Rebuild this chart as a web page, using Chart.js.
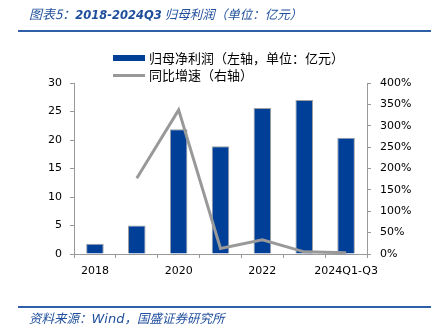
<!DOCTYPE html>
<html><head><meta charset="utf-8">
<script src="https://cdn.jsdelivr.net/npm/chart.js@4/dist/chart.umd.min.js"></script>
<style>
html,body{margin:0;padding:0;background:#fff;width:431px;height:330px;overflow:hidden;position:relative;font-family:"DejaVu Sans",sans-serif;}
#wrap{position:absolute;left:0;top:0;width:431px;height:330px;}
.title{position:absolute;left:29px;top:4px;font-size:13px;color:#1f4e9c;font-style:italic;white-space:nowrap;font-family:"Noto Sans CJK SC",sans-serif;}
.title b{font-family:"DejaVu Sans",sans-serif;font-weight:bold;font-size:11.5px;}
.title span.s{font-size:12.5px;}
.hr1{position:absolute;left:18px;right:0;top:30px;height:2px;background:#2e5fa8;}
.hr2{position:absolute;left:18px;right:0;top:306px;height:2px;background:#2e5fa8;}
.foot{position:absolute;left:29px;top:308px;font-size:12.5px;color:#1f4e9c;font-style:italic;white-space:nowrap;font-family:"Noto Sans CJK SC",sans-serif;}
.foot i{font-family:"DejaVu Sans",sans-serif;font-size:13px;}
.leg{position:absolute;left:113px;font-size:13px;color:#000;white-space:nowrap;font-family:"Noto Sans CJK SC",sans-serif;line-height:16px;}
.sw1{display:inline-block;width:32px;height:6px;background:#003f98;border:0;vertical-align:middle;margin-right:4px;position:relative;top:-1px;}
.sw2{display:inline-block;width:32px;height:3px;background:#999;vertical-align:middle;margin-right:4px;position:relative;top:-1px;}
</style></head>
<body>
<div id="wrap"><canvas id="c" width="431" height="330"></canvas></div>
<div class="title">图表5：<b>2018-2024Q3</b> <span class="s">归母利润（单位：亿元）</span></div>
<div class="hr1"></div>
<div class="leg" style="top:50px"><span class="sw1"></span>归母净利润（左轴，单位：亿元）</div>
<div class="leg" style="top:67px"><span class="sw2"></span>同比增速（右轴）</div>
<div class="hr2"></div>
<div class="foot">资料来源：<i>Wind</i>，国盛证券研究所</div>
<script>
const categories = ["2018","2019","2020","2021","2022","2023","2024Q1-Q3"];
const profit = [1.8, 5.0, 21.9, 18.9, 25.6, 27.0, 20.4];
const growth = [null, 177, 337, 13, 33, 5, 3];
const leftTicks = [0,5,10,15,20,25,30];
const rightTicks = [0,50,100,150,200,250,300,350,400];

const tickFont = {family:"DejaVu Sans", size:11};
new Chart(document.getElementById('c'), {
  data: {
    labels: categories,
    datasets: [
      {type:'line', label:'同比增速（右轴）', data: growth, yAxisID:'y2', borderColor:'#999999', borderWidth:3, pointRadius:0, fill:false, tension:0, spanGaps:false, order:0},
      {type:'bar', label:'归母净利润（左轴，单位：亿元）', data: profit, yAxisID:'y', backgroundColor:'#003f98', borderColor:'#a0a0a0', borderWidth:1, categoryPercentage:1, barPercentage:0.42, order:1}
    ]
  },
  options: {
    responsive:false, animation:false,
    layout:{padding:{top:83,left:0,right:0,bottom:0}},
    plugins:{legend:{display:false}, tooltip:{enabled:false}},
    scales:{
      x:{
        offset:true,
        grid:{display:true, drawOnChartArea:false, offset:true, tickLength:4, color:'#999'},
        border:{color:'#999'},
        ticks:{autoSkip:false, maxRotation:0, padding:7, color:'#000', font:tickFont,
          callback:(v,i)=> i%2===0 ? categories[i] : ''},
        afterFit:(s)=>{s.height=76;}
      },
      y:{
        position:'left', min:0, max:30,
        afterBuildTicks:(s)=>{s.ticks=leftTicks.map(v=>({value:v}));},
        grid:{display:true, drawOnChartArea:false, tickLength:4, color:'#999'},
        border:{color:'#999'},
        ticks:{padding:8, color:'#000', font:tickFont},
        afterFit:(s)=>{s.width=74;}
      },
      y2:{
        position:'right', min:0, max:400,
        afterBuildTicks:(s)=>{s.ticks=rightTicks.map(v=>({value:v}));},
        grid:{display:true, drawOnChartArea:false, tickLength:4, color:'#999'},
        border:{color:'#999'},
        ticks:{padding:9, color:'#000', font:tickFont, callback:(v)=>v+'%'},
        afterFit:(s)=>{s.width=64;}
      }
    }
  }
});
</script>
</body></html>
